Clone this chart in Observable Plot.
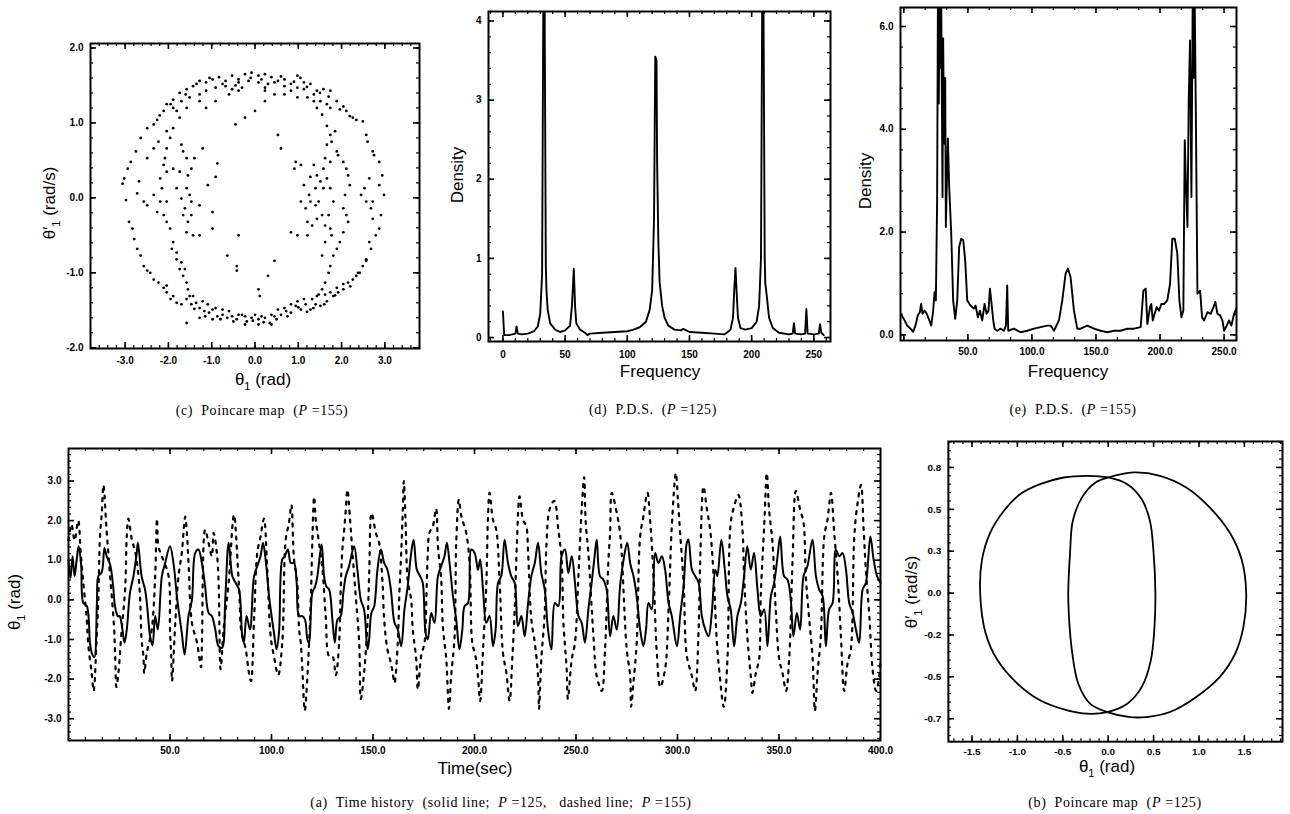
<!DOCTYPE html>
<html><head><meta charset="utf-8">
<script src="https://cdn.jsdelivr.net/npm/d3@7"></script>
<script src="https://cdn.jsdelivr.net/npm/@observablehq/plot@0.6"></script>
<style>
body{margin:0;background:#fff;width:1290px;height:814px;position:relative;overflow:hidden}
.panel{position:absolute}
.ttl{position:absolute;font-family:"Liberation Sans",Arial,sans-serif;font-size:17px;color:#000;white-space:nowrap;transform:translate(-50%,-50%)}
.rot{transform:translate(-50%,-50%) rotate(-90deg)}
.cap{position:absolute;font-family:"Liberation Serif","Times New Roman",serif;font-size:14px;letter-spacing:0.6px;color:#000;white-space:nowrap;transform:translate(-50%,-50%)}
</style></head><body>
<script>
// ---------- (c) Poincare map, P = 155 : [theta1, theta1'] ----------
const poincare155 = [
[-2.04,1.25],[-1.89,1.31],[-1.74,1.40],[-1.58,1.45],[-1.43,1.49],[-1.28,1.56],[-1.13,1.54],[-0.98,1.58],[-0.83,1.61],[-0.68,1.56],[-0.53,1.63],[-0.38,1.58],[-0.23,1.65],[-0.08,1.67],[0.08,1.63],[0.23,1.65],[0.38,1.61],[0.53,1.56],[0.68,1.58],[0.83,1.52],[0.98,1.63],[1.13,1.54],[1.28,1.52],[1.43,1.43],[1.58,1.45],[1.74,1.43],[1.89,1.29],[2.04,1.22],[2.19,1.09],[2.34,1.04],[2.49,1.02],
[-1.89,1.20],[-1.70,1.29],[-1.51,1.34],[-1.28,1.38],[-1.13,1.43],[-0.91,1.47],[-0.68,1.49],[-0.53,1.45],[-0.38,1.54],[-0.15,1.56],[0.08,1.54],[0.23,1.47],[0.45,1.54],[0.68,1.49],[0.83,1.43],[0.98,1.47],[1.13,1.45],[1.36,1.38],[1.51,1.29],[1.66,1.25],[1.74,1.20],[1.96,1.18],[2.11,1.16],[2.26,1.07],
[-2.11,1.16],[-2.26,1.04],[-2.34,0.98],[-2.49,0.93],[-2.64,0.80],[-2.75,0.62],[-2.87,0.48],[-2.94,0.39],[-3.02,0.26],[-3.06,0.19],[-2.98,-0.03],[-2.91,-0.32],[-2.83,-0.41],[-2.79,-0.55],[-2.72,-0.68],[-2.64,-0.77],[-2.57,-0.91],[-2.49,-0.97],[-2.42,-1.00],[-2.34,-1.09],[-2.23,-1.13],[-2.11,-1.20],[-2.04,-1.26],[-1.89,-1.31],[-1.81,-1.40],[-1.70,-1.42],[-2.68,0.22],[-2.57,-0.05],[-2.49,-0.10],[-2.72,0.06],
[-1.58,-1.35],[-1.47,-1.42],[-1.36,-1.40],[-1.28,-1.47],[-1.17,-1.51],[-1.06,-1.53],[-0.98,-1.49],[-0.87,-1.58],[-0.75,-1.56],[-0.64,-1.60],[-0.53,-1.58],[-0.42,-1.62],[-0.30,-1.56],[-0.19,-1.65],[-0.08,-1.60],[0.08,-1.62],[0.23,-1.60],[0.34,-1.67],[0.45,-1.58],[0.60,-1.56],[0.72,-1.51],[0.83,-1.53],[0.94,-1.44],[1.06,-1.49],[1.17,-1.42],[1.28,-1.49],[1.40,-1.42],[1.51,-1.44],[1.66,-1.38],[1.81,-1.31],[1.92,-1.26],[2.04,-1.22],[2.15,-1.13],[2.26,-1.09],[2.38,-1.00],[2.49,-0.91],[2.57,-0.84],
[-1.43,-1.31],[-1.21,-1.38],[-1.09,-1.42],[-0.91,-1.47],[-0.75,-1.49],[-0.60,-1.51],[-0.38,-1.56],[-0.23,-1.58],[0,-1.56],[0.15,-1.58],[0.38,-1.56],[0.53,-1.49],[0.68,-1.47],[0.83,-1.42],[0.98,-1.38],[1.13,-1.35],[1.32,-1.35],[1.43,-1.31],[1.55,-1.22],[1.62,-1.29],[1.74,-1.26],[1.89,-1.20],[2.04,-1.15],
[-1.58,-1.67],[-1.28,-1.60],[-0.98,-1.62],[-0.23,-1.69],[0.08,-1.69],[0.38,-1.69],
[2.57,0.84],[2.60,0.75],[2.72,0.62],[2.75,0.57],[2.87,0.48],[2.94,0.30],[2.98,0.04],[2.87,0.17],[2.91,-0.23],[2.87,-0.41],[2.79,-0.50],[2.68,-0.68],[2.64,-0.59],[2.57,-0.82],[2.42,-1.00],[2.34,-1.04],[2.45,0.04],[2.57,-0.05],[2.68,-0.14],[2.72,-0.28],[2.64,0.26],[2.53,0.13],[2.72,-0.05],
[1.36,1.29],[1.43,1.20],[1.55,1.11],[1.66,0.96],[1.74,0.84],[1.77,0.75],[1.85,0.89],[1.89,0.62],[1.92,0.57],[2.04,0.48],[2.11,0.39],[2.15,0.30],[2.19,0.17],[2.08,0.04],[2.04,-0.14],[2.11,-0.23],[2.15,-0.32],[2.04,-0.46],[1.96,-0.59],[1.89,-0.68],[1.81,-0.77],[1.74,-0.91],[1.70,-1.00],[1.62,-1.13],[1.47,-1.29],[1.66,0.71],[1.62,0.53],[1.58,0.39],[1.66,0.26],[1.74,0.13],[1.81,-0.05],[1.70,-0.23],[1.74,-0.41],[1.77,-0.50],[1.62,-0.59],[1.55,-0.77],[1.58,0.13],[1.74,0.48],
[0.91,0.39],[1.06,0.44],[1.36,0.44],[1.43,0.30],[1.51,0.22],[1.40,0.13],[1.25,0.04],[1.28,-0.05],[1.40,-0.10],[1.47,-0.05],[1.17,-0.14],[1.06,-0.05],[1.21,-0.32],[1.32,-0.37],[1.43,-0.28],[1.55,-0.23],[1.62,-0.37],[1.21,-0.50],[0.83,-0.46],[0.98,-0.50],[1.28,0.28],[1.13,0.17],
[-1.74,1.07],[-1.89,0.93],[-1.96,0.80],[-2.04,0.66],[-2.08,0.53],[-2.11,0.44],[-2.04,0.35],[-2.19,0.26],[-2.15,0.13],[-2.19,-0.05],[-2.11,-0.23],[-2.04,-0.32],[-1.96,-0.41],[-1.89,-0.59],[-1.92,-0.68],[-1.81,-0.82],[-1.74,-0.95],[-1.66,-1.04],[-1.58,-1.13],[-1.55,-1.22],[-1.51,-1.31],
[-1.70,0.71],[-1.66,0.62],[-1.58,0.53],[-1.47,0.39],[-1.40,0.53],[-1.74,0.35],[-1.55,0.30],[-1.58,0.13],[-1.51,0.04],[-1.47,-0.05],[-1.62,-0.14],[-1.66,-0.23],[-1.55,-0.32],[-1.47,-0.23],[-1.43,-0.50],[-1.28,-0.10],[-1.89,0.39],[-1.81,0.13],[-1.70,-0.01],[-1.58,-0.46],[-1.70,-0.86],[-1.62,-0.95],[-2.04,-1.17],[-1.81,-0.73],
[-2.34,0.04],[-2.26,-0.19],[-2.04,-0.05],[-1.09,0.17],[-0.98,-0.19],[-0.98,-0.41],[-0.87,0.46],[-0.91,0.28],[-0.64,-0.77],[-0.42,-0.91],[-0.42,-0.97],[-1.28,-0.50],[-1.21,0.66],
[-0.45,0.98],[-0.23,1.07],[0,1.16],[0.23,1.29],[0.45,1.38],[0.53,0.84],[0.60,0.66],[0.94,0.48],[0.45,-0.84],[0.30,-1.04],[0.11,-1.31],[0.08,-1.22],[-0.38,-0.50],
[-2.34,0.66],[-2.49,0.53],[-2.23,0.75],[-2.04,0.89],[-1.81,1.16],[-1.58,1.20],[-1.28,1.29],[-1.13,1.20],[-0.91,1.29],[-0.60,1.38],[-0.38,1.43],[-0.30,1.47],[0.23,1.43],[0.68,1.38],[0.98,1.34],[1.21,1.34],
[-1.35,1.52],[-1.05,1.60],[-0.75,1.52],[-0.45,1.50],[-0.10,1.60],[0.15,1.58],[0.30,1.52],[0.60,1.62],[0.90,1.55],[1.05,1.60],[1.20,1.48],[1.50,1.40],[1.70,1.35],[-1.60,1.38],[-1.95,1.25],[-2.20,1.10],
[-1.95,-1.35],[-1.40,-1.48],[-1.15,-1.58],[-0.80,-1.62],[-0.50,-1.65],[-0.05,-1.64],[0.20,-1.66],[0.50,-1.62],[0.75,-1.58],[1.00,-1.46],[1.20,-1.52],[1.35,-1.47],[1.60,-1.42],[1.85,-1.30],[2.20,-1.18]
];

// ---------- (d) P.D.S., P = 125 : [frequency, density] ----------
const pds125 = [
[0,0.33],[1,0.03],[5,0.03],[10,0.05],[11,0.14],[12,0.05],[15,0.04],[20,0.05],[25,0.08],[28,0.14],[30,0.3],[31.5,0.8],[32.5,4.3],[33.5,4.3],[34.5,0.9],[35,0.6],[36,0.35],[38,0.18],[42,0.1],[46,0.07],[50,0.09],[54,0.15],[55.5,0.4],[57,0.87],[58,0.4],[59,0.18],[62,0.1],[66,0.06],[68,0.03],[70,0.05],[80,0.06],[90,0.07],[100,0.08],[105,0.1],[110,0.13],[115,0.2],[118,0.35],[120,0.6],[121.5,1.5],[122.5,3.55],[123.5,3.5],[124,2.2],[125,1.2],[126,0.7],[128,0.4],[130,0.25],[133,0.15],[138,0.1],[143,0.09],[145,0.11],[150,0.07],[160,0.06],[170,0.05],[178,0.04],[180,0.06],[183,0.1],[185,0.25],[186,0.6],[187,0.88],[188,0.55],[189,0.25],[191,0.12],[195,0.1],[200,0.12],[204,0.2],[206,0.4],[207.5,1.0],[208.5,4.3],[209.5,4.3],[210.5,1.0],[211,0.68],[212,0.55],[214,0.25],[217,0.12],[222,0.06],[230,0.04],[233,0.05],[234,0.18],[235,0.05],[240,0.04],[243,0.05],[244,0.36],[245,0.05],[250,0.04],[254,0.05],[255,0.17],[256,0.06],[258,0.03]
];

// ---------- (e) P.D.S., P = 155 : [frequency, density] ----------
const pds155 = [
[-2.5,0.41],[0,0.31],[2.6,0.18],[5.2,0.12],[7.3,0.06],[9.1,0.18],[10.9,0.38],[12.5,0.44],[13.5,0.6],[14.6,0.41],[16.1,0.47],[17.7,0.42],[19.5,0.31],[21.4,0.18],[22.9,0.47],[24,0.83],[25,0.67],[26,2.62],[26.6,6.5],[27.3,4.5],[27.9,6.5],[28.6,5.2],[29.2,6.5],[30.2,2.68],[30.7,5.77],[31.3,4.0],[31.8,3.72],[32.3,5.0],[32.8,2.10],[34.4,3.82],[35.4,2.88],[37.0,1.97],[38.5,0.67],[40.1,0.31],[41.7,0.67],[43.2,1.71],[44.8,1.87],[46.4,1.84],[47.9,1.45],[49.5,0.67],[52.1,0.57],[54.7,0.51],[56.0,0.57],[57.8,0.34],[59.4,0.47],[61.2,0.28],[63.0,0.60],[64.6,0.41],[66.1,0.47],[67.2,0.90],[68.2,0.67],[69.8,0.28],[70.8,0.12],[72.9,0.08],[75.5,0.12],[78.1,0.08],[79.7,0.18],[80.7,0.96],[81.5,0.08],[85.9,0.12],[91.1,0.05],[96.4,0.08],[101.6,0.12],[106.8,0.15],[112.0,0.18],[114.6,0.18],[117.2,0.08],[121.1,0.28],[123.7,0.67],[126.3,1.19],[128.1,1.29],[130.2,1.12],[132.8,0.47],[135.4,0.12],[138.0,0.12],[143.2,0.18],[148.4,0.12],[153.6,0.08],[158.9,0.05],[164.1,0.08],[169.3,0.08],[174.5,0.12],[179.7,0.12],[184.9,0.15],[187.0,0.86],[188.8,0.90],[190.1,0.21],[192.2,0.54],[193.2,0.60],[194.3,0.28],[195.8,0.41],[197.4,0.54],[199.2,0.47],[201.0,0.60],[203.1,0.60],[205.7,0.67],[207.8,0.99],[209.6,1.87],[211.5,1.87],[213.5,1.58],[215.1,0.67],[216.7,0.34],[218.2,0.47],[219.3,3.79],[220.3,2.88],[221.4,2.10],[222.4,4.56],[223.4,5.73],[224.5,2.68],[225.5,6.5],[226.3,5.0],[227.1,6.5],[228.1,3.92],[229.2,0.80],[231.3,0.86],[232.8,0.34],[234.4,0.28],[237.0,0.44],[239.6,0.41],[241.7,0.54],[243.2,0.64],[244.8,0.41],[246.9,0.38],[248.7,0.28],[250.0,0.08],[252.1,0.18],[253.9,0.28],[255.7,0.18],[257.8,0.41],[259.6,0.51]
];

// ---------- (a) Time history : [time (sec), theta1 (rad)] ----------
const solid125 = [
[0,1.0],[1,0.55],[2,1.1],[3,0.6],[4,1.0],[5,1.35],[6.2,0.9],[7.3,-0.08],[9,-0.15],[10.6,-1.1],[11.4,-1.33],[12.7,-1.45],[14,-0.07],[14.7,0.6],[16.4,0.7],[17.7,1.31],[18.8,1.1],[20.5,0.89],[22,0.34],[22.9,-0.16],[24.3,-0.41],[25.2,-0.41],[26.2,-0.62],[27.6,-1.08],[28.7,-0.75],[30.3,0.18],[32,0.6],[33.6,1.18],[34.2,1.45],[36,0.6],[37.7,0.26],[38.6,-0.08],[40.2,-0.92],[41.4,-1.15],[42.7,-0.41],[44,-0.75],[46,0.6],[47.6,0.93],[50,1.35],[51.7,0.93],[53.4,0.09],[54.2,-0.24],[55.8,-0.83],[57.2,-1.38],[59.1,-0.41],[60.8,0],[62.4,1.18],[64,1.27],[65.7,0.93],[67.3,0.34],[69,-0.33],[70.6,-0.41],[72.3,-0.75],[73.9,-1.17],[75.6,-1.21],[77.2,0],[78.9,1.44],
[80.7,0.6],[82.3,0.43],[84,0.26],[85.6,-0.92],[86.4,-1.08],[87.7,-0.41],[89.4,-0.75],[91.4,0.6],[93,0.85],[94.6,1.1],[95.8,1.44],[97.1,1.02],[98.8,0.09],[99.6,-0.24],[101.2,-0.83],[102.5,-1.25],[103.7,-0.83],[105.3,1.02],[106.5,1.1],[108.1,1.27],[109.5,0.93],[111.1,0.93],[112.4,0.43],[113.6,-0.41],[115.2,-0.41],[116.5,-0.5],[117.7,-1.0],[118.5,-1.08],[120.1,0.18],[121.5,0.34],[122.6,0.6],[124.7,1.4],[125.9,0.6],[127,0.34],[128.4,0.26],[130,-0.5],[131.2,-1.08],[132.5,-0.5],[134.1,-0.41],[135.4,0.18],[136.6,0.6],[138.2,0.85],[140.7,1.35],[142.3,0.76],[144,0],[145.6,-0.24],[147.3,-1.25],[148.1,-1.0],[149.2,-0.33],[150.6,-0.16],[152.2,0.76],[153.9,1.27],[155.5,0.93],[157.1,0.76],[158.8,0.26],
[160.6,-0.58],[162.2,-0.75],[163.9,-1.17],[165.5,-0.24],[167.1,0.34],[168.8,1.18],[170,1.52],[171.6,0.76],[173.2,0.6],[174.5,0.43],[175.9,-0.83],[177,-1.0],[178.7,-0.33],[180.3,-0.58],[182,0.6],[183.6,0.85],[185.2,1.1],[186.4,1.44],[187.7,0.93],[189.4,0.09],[191,-0.5],[192.6,-1.25],[194,-0.75],[195.1,-0.16],[196.8,-0.08],[198.4,1.27],[200.1,1.18],[201.7,0.76],[202.8,1.02],[204.2,0.26],[205.8,-0.58],[207.4,-0.41],[209.1,-1.17],[210.4,-0.75],[211.6,0.43],[213.2,0.6],[214.8,1.52],[216.5,0.93],[218.1,0.6],[219.8,0.43],[221.4,-0.66],[223.1,-0.41],[224.7,-0.92],[226.4,-0.08],[228,0.6],[229.7,0.93],[231.3,1.44],[232.9,0.68],[234.6,0.26],[236.2,-0.75],[237.9,-1.25],
[239.6,-0.08],[241.3,-0.16],[242.9,1.1],[244.6,1.27],[246.2,0.68],[247.9,1.1],[249.5,0.43],[251.2,-0.41],[252.8,-0.58],[254.4,-1.08],[256.1,-0.24],[257.7,0.43],[259,1.02],[260.2,1.52],[261.8,0.6],[263.5,0.51],[265.1,0.26],[266.8,-0.92],[268.4,-0.41],[270.1,-0.75],[271.7,0.34],[273.4,1.0],[275.2,1.44],[276.8,0.9],[278.3,0.6],[279.9,0.09],[281.6,-0.75],[283.2,-1.17],[284.5,-0.75],[285.7,-0.08],[287.3,-0.24],[289,1.18],[290.6,0.93],[292.3,1.1],[293.9,0.76],[295.6,-0.08],[297.2,-0.41],[299.7,-1.17],[301.3,-0.41],[303,0.34],[304.6,1.44],[305.4,1.52],[307.1,0.76],[308.7,0.6],[310.4,0.43],[312,-0.41],[313.7,-0.75],[315.3,-0.92],[316.9,-0.33],
[318.6,0.76],[319.6,0.6],[321.6,1.52],[323.3,0.76],[324.6,0.09],[326.2,-0.24],[327.9,-1.17],[329.5,-0.41],[331.2,-0.08],[332.8,0.6],[334.4,1.35],[336.1,0.76],[337.7,1.18],[339.4,0.26],[341,-0.41],[342.7,-0.24],[344.3,-1.17],[346,0.09],[347.6,0.43],[349.3,1.1],[350.6,1.6],[352.5,0.6],[354.2,0.51],[355.8,0],[357.1,-0.92],[358.8,-0.33],[360.4,-0.75],[362.1,0.6],[364,0.85],[366.5,1.52],[368.2,0.6],[369.8,0.26],[371.5,0.09],[373.1,-1.17],[374.7,-0.24],[376.4,-0.08],[378,1.27],[379.7,1.1],[381.3,1.18],[383,0.76],[384.6,-0.08],[386.3,-0.33],[387.9,-0.75],[389.5,-1.08],[391.2,0.26],[392.8,0.43],[395,1.6],[396.6,1.02],[398.3,0.6],[400,0.43]
];
const dashed155 = [
[0,1.5],[1.5,1.9],[3,1.5],[4.8,2.0],[6,1.2],[7.3,0.43],[9,-0.5],[9.8,-1.17],[11.4,-1.84],[12.4,-2.3],[13.9,-0.92],[14.7,0],[15.5,1.6],[16.4,2.19],[17.2,2.9],[18.8,1.73],[20.5,0.6],[22.4,-0.66],[23,-1.42],[23.6,-2.2],[24.6,-1.84],[26.2,-0.75],[27.9,0.26],[28.7,1.6],[29.5,2.05],[31.2,1.52],[33,1.18],[34.5,0.6],[35.3,0],[36,-1.0],[36.9,-1.42],[37.3,-1.85],[38.6,-1.33],[41,-0.75],[42.7,0.6],[43.6,2.05],[44.3,1.35],[46,1.1],[49.3,0.6],[50,-0.75],[50.6,-1.42],[51,-2.05],[52.6,-0.58],[54.2,0.6],[55.8,1.18],[57.5,2.1],[58.3,1.69],[59.2,0.85],[60.8,-0.58],[63.3,-1.08],[65.3,-1.7],[65.7,-1.17],[67.3,1.77],[69,1.44],[70.6,1.1],[71.5,1.69],[73.1,1.18],[74,0.34],[74.9,-1.75],[76.4,-0.75],[78.9,0.43],
[81.5,2.15],[83.5,0.76],[84.3,0],[85,-0.75],[87.3,-1.25],[88.9,-1.84],[89.9,-2.05],[91.4,-0.5],[93,1.18],[94.6,1.6],[96.3,2.05],[97.9,0.76],[99.6,-0.92],[101.2,-1.42],[103.3,-1.9],[105.3,-1.08],[107,1.52],[108.6,1.94],[109.8,2.4],[111.1,1.02],[112.7,0.43],[113.6,-0.75],[114.4,-1.08],[115.2,-1.75],[116.4,-2.8],[117.7,-1.92],[119.3,-0.08],[120.1,1.44],[121,2.6],[121.8,2.02],[123.4,1.44],[125.1,0.76],[126.7,-0.41],[128.4,-1.42],[130,-1.42],[131.7,-1.9],[133.3,-1.08],[134.1,0.26],[134.9,1.27],[135.8,1.77],[136.6,2.28],[137.4,2.78],[138.7,2.02],[139.9,1.18],[141.5,0.09],[143.2,-1.08],[144,-2.5],[145.6,-1.84],[147.3,-0.58],[148.1,0.6],[149.3,2.19],[151.4,1.69],[153,1.44],[154.7,0.43],[155.5,-0.5],[157.1,-1.25],[158.8,-1.59],
[159.7,-1.84],[160.6,-2.1],[162.2,-1.08],[163,0.18],[163.9,1.18],[164.7,2.28],[165.2,3.0],[166,2.02],[167.1,0.51],[168.8,0],[169.6,-0.75],[171.3,-1.5],[172.1,-2.26],[173.7,-1.42],[175.4,-1.08],[176.2,-0.08],[177,1.18],[177.8,1.69],[179.5,1.86],[181.1,2.3],[182,1.35],[183.6,0.51],[184.4,-0.66],[186.1,-1.5],[187.4,-2.75],[188.5,-1.92],[190.2,-0.92],[191,1.44],[192.3,2.53],[193.5,2.11],[195.9,1.69],[197.6,0.93],[198.9,-1.08],[200.5,-1.42],[201.7,-1.92],[202.8,-2.55],[204.2,-1.25],[205.8,0.34],[206.6,2.02],[207.4,2.7],[209.1,2.02],[210.7,1.77],[212.4,0.43],[214,-1.33],[215.7,-1.84],[217.3,-2.55],[218.6,-1.5],[219.8,-0.24],[220.9,1.44],[222.2,2.61],[223.9,2.02],[225.5,1.86],[226.4,1.18],[228,-0.5],[229.7,-1.08],[231.3,-1.92],[231.8,-2.75],[232.9,-1.5],[234.6,-0.33],[235.4,1.35],[237,2.28],[239.3,2.5],
[241.3,1.77],[242.9,1.02],[243.8,-0.58],[244.6,-1.17],[245.4,-1.75],[246,-2.5],[247.9,-1.5],[249.5,-1.08],[251.2,0.6],[252.8,2.28],[254,3.1],[254.8,1.94],[256.1,1.18],[258.6,-0.92],[260.2,-1.92],[262.7,-2.3],[264.3,-1.25],[266,1.02],[266.8,1.69],[267.6,2.7],[270.1,2.19],[271.7,1.69],[272.5,1.18],[275,-1.25],[276.7,-1.92],[277.1,-2.7],[278.3,-2.09],[279.9,-1.08],[281.6,1.6],[283.2,2.11],[285.2,2.7],[286.5,2.02],[288.2,0.6],[289.8,-1.33],[291.5,-2.2],[293.9,-1.75],[295.6,-0.24],[297.2,1.86],[299.2,3.2],[300.2,2.53],[301.3,1.69],[303,0.43],[304.6,-1.42],[307.1,-1.92],[308.7,-2.3],[310.4,-0.75],[311.2,1.02],[312.8,2.86],[314.5,2.28],[316.1,1.77],[317.8,0.6],[319.4,-1.08],
[320.5,-1.75],[322.8,-2.7],[324.6,-1.5],[326.2,1.94],[327.9,2.36],[330,2.65],[332,1.77],[332.8,0.6],[334.4,-0.92],[336.1,-1.92],[336.9,-2.35],[338.6,-1.84],[340.2,-1.5],[341,0.09],[342.7,1.86],[344,3.2],[345.1,2.28],[346.8,1.44],[348.4,-0.24],[350.1,-1.5],[351.7,-1.84],[353.5,-2.3],[355,-1.5],[356.7,1.02],[358.3,2.75],[360.4,2.28],[362.1,1.94],[363.2,0.6],[364.9,-0.5],[366.5,-1.42],[367.7,-2.8],[369,-1.84],[370.6,-0.92],[372.3,1.6],[373.9,2.02],[375.6,2.7],[377.2,1.69],[378.9,0.6],[380.5,-0.92],[382.1,-2.3],[383.8,-1.59],[385.4,-1.25],[387.1,1.6],[388.7,2.44],[390.4,2.9],[391.7,1.77],[392.8,0.76],[394.5,-0.41],[396.1,-1.75],[397.8,-2.3],[399.4,-1.92],[400,-1.5]
];

// ---------- (b) Poincare map, P = 125 : two closed curves [theta1, theta1'] ----------
const loopA = [[0.0,0.69],[0.21,0.65],[0.37,0.56],[0.46,0.43],[0.50,0.24],[0.52,0.0],[0.51,-0.20],[0.47,-0.40],[0.37,-0.56],[0.21,-0.66],[-0.01,-0.71],[-0.23,-0.72],[-0.45,-0.70],[-0.75,-0.64],[-1.00,-0.54],[-1.22,-0.40],[-1.35,-0.24],[-1.41,0.0],[-1.39,0.20],[-1.30,0.36],[-1.15,0.49],[-0.97,0.59],[-0.75,0.65],[-0.49,0.69],[-0.23,0.70]];
const loopB = [[0.0,0.69],[0.28,0.72],[0.57,0.70],[0.86,0.63],[1.12,0.51],[1.34,0.36],[1.47,0.20],[1.52,0.0],[1.49,-0.20],[1.40,-0.36],[1.23,-0.50],[0.97,-0.62],[0.68,-0.71],[0.42,-0.74],[0.24,-0.74],[-0.01,-0.71],[-0.20,-0.66],[-0.33,-0.54],[-0.40,-0.34],[-0.43,-0.16],[-0.44,0.0],[-0.42,0.24],[-0.39,0.43],[-0.29,0.57],[-0.14,0.66]];

// ---------- tick values and labels ----------
const cTicksX = [-3,-2,-1,0,1,2,3], cTicksY = [-2,-1,0,1,2];
const dTicksX = [0,50,100,150,200,250], dTicksY = [0,1,2,3,4];
const eTicksX = [50,100,150,200,250], eTicksY = [0,2,4,6];
const aTicksX = [50,100,150,200,250,300,350,400], aTicksY = [-3,-2,-1,0,1,2,3];
const bTicksX = [-1.5,-1,-0.5,0,0.5,1,1.5];
const bTicksY = [-0.75,-0.5,-0.25,0,0.25,0.5,0.75];
const bTickLabelsY = ["-0.7","-0.5","-0.2","0.0","0.3","0.5","0.8"];

const fmt1 = d => d.toFixed(1);
const fmt0 = d => String(d);

// inward ticks on all four sides, drawn as short rules through the plot's own scales
function frameTicks({xd, yd, w, h, xMajor, xMinor, yMajor, yMinor, xLab, yLab, xFmt, yFmt, xPad = 8, yPad = 7, big = 6, small = 3}) {
  const kx = (xd[1] - xd[0]) / w, ky = (yd[1] - yd[0]) / h;
  const inX = v => v.filter(d => d > xd[0] && d < xd[1]);
  const inY = v => v.filter(d => d > yd[0] && d < yd[1]);
  const marks = [];
  for (const [vals, len, sw] of [[xMinor, small, 1.2], [xMajor, big, 1.6]]) {
    marks.push(Plot.ruleX(inX(vals), {x: d => d, y1: yd[0], y2: yd[0] + len * ky, strokeWidth: sw}));
    marks.push(Plot.ruleX(inX(vals), {x: d => d, y1: yd[1], y2: yd[1] - len * ky, strokeWidth: sw}));
  }
  for (const [vals, len, sw] of [[yMinor, small, 1.2], [yMajor, big, 1.6]]) {
    marks.push(Plot.ruleY(inY(vals), {y: d => d, x1: xd[0], x2: xd[0] + len * kx, strokeWidth: sw}));
    marks.push(Plot.ruleY(inY(vals), {y: d => d, x1: xd[1], x2: xd[1] - len * kx, strokeWidth: sw}));
  }
  marks.push(Plot.axisX(xLab, {anchor: "bottom", tickSize: 0, tickPadding: xPad, tickFormat: xFmt, label: null}));
  marks.push(Plot.axisY(yLab, {anchor: "left", tickSize: 0, tickPadding: yPad, tickFormat: yFmt, label: null}));
  marks.push(Plot.frame({strokeWidth: 2}));
  return marks;
}

function addPanel({left, top, w, h, xd, yd, marks, ticks, ml = 44, mr = 8, mt = 8, mb = 30}) {
  const chart = Plot.plot({
    width: w + ml + mr, height: h + mt + mb,
    marginLeft: ml, marginRight: mr, marginTop: mt, marginBottom: mb,
    x: {domain: xd}, y: {domain: yd},
    style: {background: "none", overflow: "visible", fontFamily: "'Liberation Sans', Arial, sans-serif", fontSize: "10px", fontWeight: "bold", color: "#000"},
    marks: [...marks, ...frameTicks({xd, yd, w, h, ...ticks})]
  });
  const div = document.createElement("div");
  div.className = "panel";
  div.style.left = (left - ml) + "px";
  div.style.top = (top - mt) + "px";
  div.append(chart);
  document.body.append(div);
}

function addText(cls, html, cx, cy) {
  const d = document.createElement("div");
  d.className = cls;
  d.innerHTML = html;
  d.style.left = cx + "px";
  d.style.top = cy + "px";
  document.body.append(d);
}

const rng = (a, b, s) => d3.range(Math.round(a / s), Math.round(b / s) + 1).map(i => +(i * s).toFixed(4));

// (c)
addPanel({
  left: 90, top: 43, w: 329, h: 305, xd: [-3.8, 3.8], yd: [-2.01, 2.06],
  marks: [Plot.dot(poincare155, {x: d => d[0], y: d => d[1], r: 1.4, fill: "#000", stroke: null})],
  ticks: {xMajor: cTicksX, xMinor: rng(-3.8, 3.8, 0.2), yMajor: cTicksY, yMinor: rng(-2, 2, 0.2),
    xLab: cTicksX, yLab: cTicksY, xFmt: fmt1, yFmt: fmt1}
});
// (d)
addPanel({
  left: 488, top: 11, w: 342, h: 330, xd: [-11.6, 263.4], yd: [-0.05, 4.12],
  marks: [Plot.line(pds125, {x: d => d[0], y: d => d[1], stroke: "#000", strokeWidth: 1.9, clip: true})],
  ticks: {xMajor: dTicksX, xMinor: rng(-10, 260, 10), yMajor: dTicksY, yMinor: rng(0, 4.1, 0.2),
    xLab: dTicksX, yLab: dTicksY, xFmt: fmt0, yFmt: fmt0, xPad: 9}
});
// (e)
addPanel({
  left: 900, top: 7, w: 336, h: 333, xd: [-2.6, 259.7], yd: [-0.11, 6.37],
  marks: [Plot.line(pds155, {x: d => d[0], y: d => d[1], stroke: "#000", strokeWidth: 1.9, clip: true})],
  ticks: {xMajor: [0, ...eTicksX], xMinor: rng(0, 250, 50 / 3), yMajor: eTicksY, yMinor: rng(0, 6.2, 0.4),
    xLab: eTicksX, yLab: eTicksY, xFmt: fmt1, yFmt: fmt1, xPad: 7}
});
// (a)
addPanel({
  left: 68, top: 448, w: 812, h: 292, xd: [0, 400], yd: [-3.55, 3.82],
  marks: [
    Plot.line(dashed155, {x: d => d[0], y: d => d[1], stroke: "#000", strokeWidth: 2.2, strokeDasharray: "3,6", curve: "catmull-rom"}),
    Plot.line(solid125, {x: d => d[0], y: d => d[1], stroke: "#000", strokeWidth: 2, curve: "catmull-rom"})
  ],
  ticks: {xMajor: [0, ...aTicksX], xMinor: rng(0, 400, 50 / 6), yMajor: aTicksY, yMinor: rng(-3.5, 3.8, 1 / 6),
    xLab: aTicksX, yLab: aTicksY, xFmt: fmt1, yFmt: fmt1, xPad: 6}
});
// (b)
addPanel({
  left: 948, top: 441, w: 335, h: 301, xd: [-1.76, 1.92], yd: [-0.887, 0.905],
  marks: [
    Plot.line(loopA, {x: d => d[0], y: d => d[1], stroke: "#000", strokeWidth: 1.8, curve: "catmull-rom-closed"}),
    Plot.line(loopB, {x: d => d[0], y: d => d[1], stroke: "#000", strokeWidth: 1.8, curve: "catmull-rom-closed"})
  ],
  ticks: {xMajor: bTicksX, xMinor: rng(-1.7, 1.9, 0.1), yMajor: bTicksY, yMinor: rng(-0.85, 0.9, 0.05),
    xLab: bTicksX, yLab: bTicksY, xFmt: fmt1, yFmt: d => bTickLabelsY[bTicksY.indexOf(d)], xPad: 6}
});

// axis titles
addText("ttl rot", "θ′<sub style='font-size:11px'>1</sub> (rad/s)", 51, 203);
addText("ttl", "θ<sub style='font-size:11px'>1</sub> (rad)", 263, 381);
addText("ttl rot", "Density", 458, 175);
addText("ttl", "Frequency", 660, 372);
addText("ttl rot", "Density", 866, 181);
addText("ttl", "Frequency", 1068, 372);
addText("ttl rot", "θ<sub style='font-size:11px'>1</sub> (rad)", 16, 602);
addText("ttl", "Time(sec)", 475, 769);
addText("ttl rot", "θ′<sub style='font-size:11px'>1</sub> (rad/s)", 913, 592);
addText("ttl", "θ<sub style='font-size:11px'>1</sub> (rad)", 1107, 768);

// captions
addText("cap", "(c)&nbsp; Poincare map &nbsp;(<i>P</i> =155)", 262, 411);
addText("cap", "(d)&nbsp; P.D.S. &nbsp;(<i>P</i> =125)", 653, 410);
addText("cap", "(e)&nbsp; P.D.S. &nbsp;(<i>P</i> =155)", 1073, 410);
addText("cap", "(a)&nbsp; Time history &nbsp;(solid line; &nbsp;<i>P</i> =125, &nbsp; dashed line; &nbsp;<i>P</i> =155)", 501, 803);
addText("cap", "(b)&nbsp; Poincare map &nbsp;(<i>P</i> =125)", 1115, 803);
</script>
</body></html>
